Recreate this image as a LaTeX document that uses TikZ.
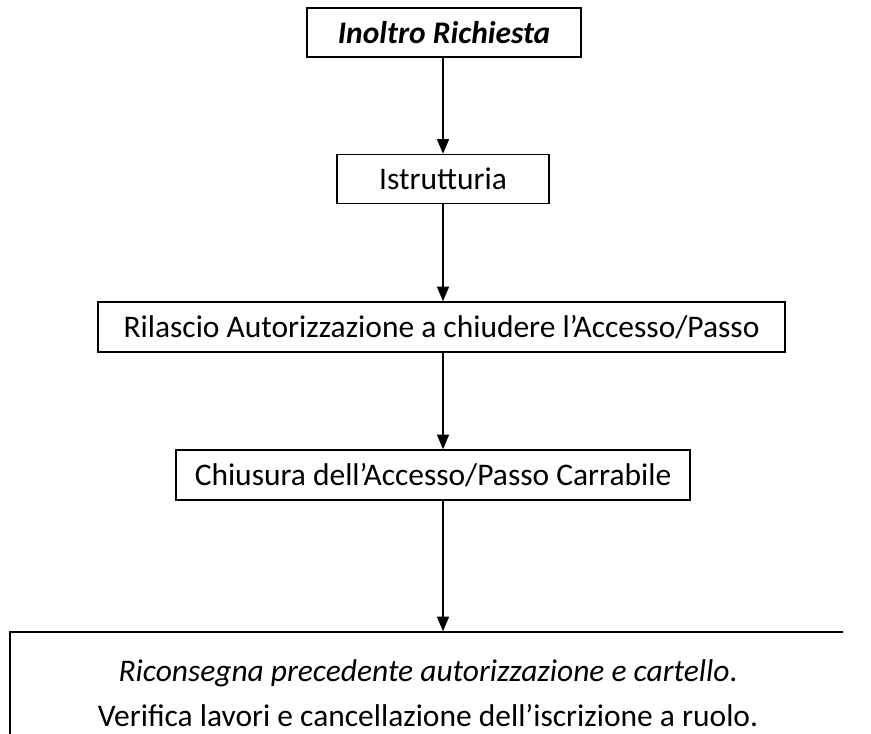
\documentclass[tikz,border=0pt]{standalone}
\usepackage{fontspec}
\setmainfont{Carlito}
\usetikzlibrary{positioning, arrows.meta}
\tikzset{
  stepbox/.style={draw, line width=1.1pt, rectangle, inner sep=0pt, minimum height=36.75pt,
    font=\fontsize{23.6}{28}\selectfont},
  flow/.style={-{Triangle[length=11pt,width=9pt]}, line width=1.1pt}
}

\begin{document}
\begin{tikzpicture}[x=0.75pt, y=-0.75pt]
            \useasboundingbox (0,0) rectangle (871,733);
            \node [stepbox, minimum width=205.5pt] (A) at (444,32.5) {\textbf{\textit{Inoltro Richiesta}}};
            \node [stepbox, minimum width=159pt] (B) at (443,179) {Istrutturia};
            \node [stepbox, minimum width=515.25pt, minimum height=37.5pt] (C) at (441.5,327) {Rilascio Autorizzazione a chiudere l’Accesso/Passo};
            \node [stepbox, minimum width=385.5pt, minimum height=37.5pt] (D) at (433,475) {Chiusura dell’Accesso/Passo Carrabile};
            \begin{scope}
                \clip (0,0) rectangle (843,733);
                \node [stepbox, minimum width=627pt, minimum height=91.5pt, align=center,
                    font=\fontsize{23.6}{33.75}\selectfont] (E) at (428,693)
                    {\textit{Riconsegna precedente autorizzazione e cartello}.\\Verifica lavori e cancellazione dell’iscrizione a ruolo.};
            \end{scope}
            \coordinate (spine) at (443,0);

            \draw[flow] (A.south -| spine) -- (B.north -| spine);
            \draw[flow] (B.south -| spine) -- (C.north -| spine);
            \draw[flow] (C.south -| spine) -- (D.north -| spine);
            \draw[flow] (D.south -| spine) -- (E.north -| spine);
        \end{tikzpicture}
\end{document}
